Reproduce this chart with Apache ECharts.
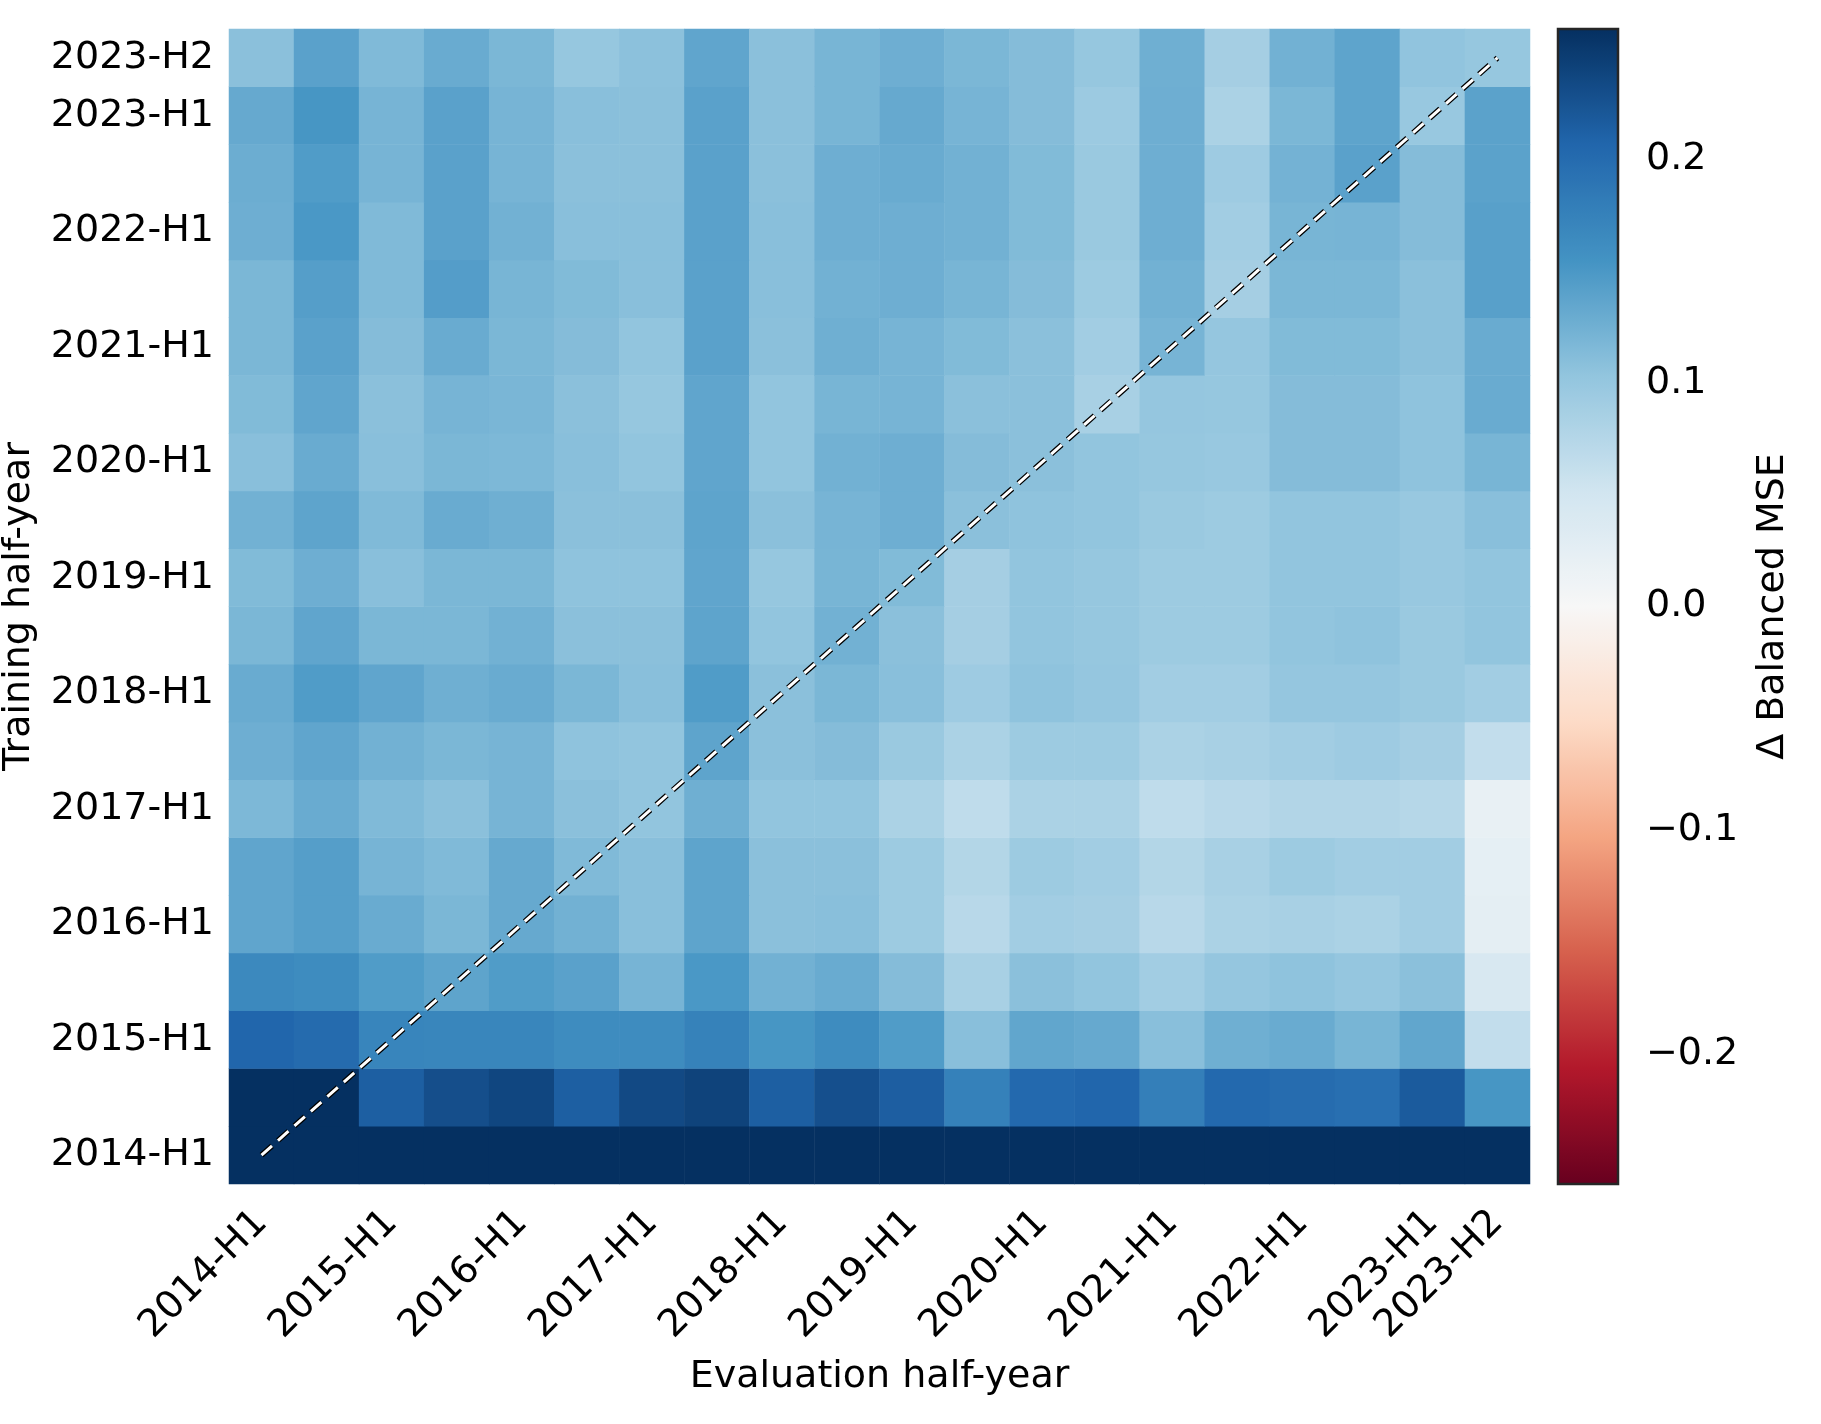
<!DOCTYPE html>
<html>
<head>
<meta charset="utf-8">
<script src="https://cdn.jsdelivr.net/npm/echarts@6/dist/echarts.min.js"></script>
<style>
  html, body { margin: 0; padding: 0; background: #fff; }
  #chart { width: 1821px; height: 1424px; }
</style>
</head>
<body>
<div id="chart"></div>
<script>
// half-year periods, used for both axes
const halfYears = [
  '2014-H1', '2014-H2', '2015-H1', '2015-H2', '2016-H1', '2016-H2', '2017-H1', '2017-H2',
  '2018-H1', '2018-H2', '2019-H1', '2019-H2', '2020-H1', '2020-H2', '2021-H1', '2021-H2',
  '2022-H1', '2022-H2', '2023-H1', '2023-H2'
];

// delta balanced MSE, one row per training half-year, columns = evaluation half-year
const train2014H1 = [0.29, 0.28, 0.28, 0.29, 0.28, 0.28, 0.28, 0.29, 0.27, 0.28, 0.28, 0.27, 0.28, 0.28, 0.27, 0.28, 0.28, 0.28, 0.29, 0.27];
const train2014H2 = [0.262, 0.258, 0.213, 0.229, 0.237, 0.213, 0.234, 0.240, 0.213, 0.228, 0.214, 0.176, 0.203, 0.206, 0.178, 0.203, 0.199, 0.196, 0.217, 0.152];
const train2015H1 = [0.206, 0.201, 0.171, 0.170, 0.170, 0.163, 0.163, 0.174, 0.152, 0.163, 0.146, 0.109, 0.135, 0.132, 0.109, 0.126, 0.130, 0.120, 0.135, 0.064];
const train2015H2 = [0.166, 0.163, 0.146, 0.137, 0.146, 0.140, 0.121, 0.150, 0.124, 0.130, 0.112, 0.085, 0.108, 0.103, 0.090, 0.101, 0.105, 0.101, 0.108, 0.042];
const train2016H1 = [0.136, 0.143, 0.130, 0.118, 0.132, 0.124, 0.109, 0.137, 0.108, 0.109, 0.094, 0.072, 0.090, 0.088, 0.072, 0.083, 0.085, 0.083, 0.090, 0.026];
const train2016H2 = [0.136, 0.143, 0.121, 0.115, 0.132, 0.115, 0.109, 0.137, 0.108, 0.108, 0.094, 0.076, 0.094, 0.090, 0.076, 0.085, 0.094, 0.090, 0.090, 0.024];
const train2017H1 = [0.117, 0.130, 0.115, 0.108, 0.121, 0.108, 0.103, 0.126, 0.103, 0.103, 0.083, 0.066, 0.083, 0.083, 0.066, 0.072, 0.077, 0.077, 0.074, 0.020];
const train2017H2 = [0.127, 0.136, 0.124, 0.118, 0.121, 0.105, 0.103, 0.137, 0.108, 0.112, 0.097, 0.083, 0.094, 0.094, 0.083, 0.085, 0.090, 0.093, 0.088, 0.064];
const train2018H1 = [0.130, 0.146, 0.136, 0.126, 0.130, 0.118, 0.109, 0.146, 0.108, 0.118, 0.109, 0.093, 0.105, 0.101, 0.090, 0.090, 0.101, 0.101, 0.097, 0.090];
const train2018H2 = [0.118, 0.136, 0.118, 0.118, 0.124, 0.108, 0.108, 0.137, 0.103, 0.124, 0.108, 0.088, 0.103, 0.100, 0.094, 0.094, 0.103, 0.105, 0.097, 0.103];
const train2019H1 = [0.114, 0.127, 0.109, 0.118, 0.118, 0.105, 0.105, 0.136, 0.100, 0.120, 0.114, 0.088, 0.103, 0.100, 0.094, 0.094, 0.103, 0.103, 0.098, 0.103];
const train2019H2 = [0.124, 0.137, 0.115, 0.130, 0.126, 0.108, 0.108, 0.137, 0.108, 0.121, 0.127, 0.108, 0.105, 0.103, 0.097, 0.094, 0.103, 0.103, 0.098, 0.109];
const train2020H1 = [0.109, 0.130, 0.109, 0.118, 0.117, 0.109, 0.103, 0.136, 0.103, 0.124, 0.127, 0.112, 0.108, 0.103, 0.100, 0.098, 0.112, 0.112, 0.105, 0.120];
const train2020H2 = [0.114, 0.136, 0.108, 0.121, 0.119, 0.108, 0.100, 0.136, 0.103, 0.120, 0.121, 0.108, 0.108, 0.085, 0.101, 0.100, 0.112, 0.112, 0.105, 0.130];
const train2021H1 = [0.118, 0.140, 0.112, 0.130, 0.118, 0.112, 0.103, 0.140, 0.108, 0.126, 0.121, 0.114, 0.108, 0.090, 0.121, 0.101, 0.114, 0.114, 0.108, 0.130];
const train2021H2 = [0.118, 0.143, 0.115, 0.144, 0.120, 0.114, 0.109, 0.140, 0.109, 0.124, 0.127, 0.120, 0.112, 0.094, 0.124, 0.088, 0.118, 0.118, 0.108, 0.141];
const train2022H1 = [0.127, 0.150, 0.115, 0.140, 0.124, 0.109, 0.109, 0.140, 0.109, 0.127, 0.127, 0.124, 0.114, 0.097, 0.127, 0.090, 0.120, 0.121, 0.112, 0.141];
const train2022H2 = [0.128, 0.146, 0.121, 0.140, 0.121, 0.108, 0.108, 0.140, 0.108, 0.127, 0.130, 0.124, 0.114, 0.097, 0.127, 0.093, 0.123, 0.140, 0.112, 0.139];
const train2023H1 = [0.132, 0.152, 0.121, 0.140, 0.121, 0.109, 0.108, 0.140, 0.108, 0.120, 0.132, 0.121, 0.112, 0.095, 0.127, 0.083, 0.118, 0.137, 0.098, 0.139];
const train2023H2 = [0.108, 0.140, 0.115, 0.130, 0.118, 0.100, 0.107, 0.136, 0.108, 0.120, 0.127, 0.118, 0.112, 0.100, 0.126, 0.088, 0.124, 0.137, 0.104, 0.100];

// colour scale limits and colourbar ticks
const vmin = -0.258;
const vmax = 0.258;
const cbarTicks = [-0.2, -0.1, 0.0, 0.1, 0.2];

// RdBu, low -> high
const rdBu = ['#67001f', '#b2182b', '#d6604d', '#f4a582', '#fddbc7', '#f7f7f7',
              '#d1e5f0', '#92c5de', '#4393c3', '#2166ac', '#053061'];

const rows = [
  train2014H1, train2014H2, train2015H1, train2015H2, train2016H1, train2016H2,
  train2017H1, train2017H2, train2018H1, train2018H2, train2019H1, train2019H2,
  train2020H1, train2020H2, train2021H1, train2021H2, train2022H1, train2022H2,
  train2023H1, train2023H2
];
const cells = [];
rows.forEach((row, y) => row.forEach((v, x) => cells.push([x, y, v])));

const last = halfYears.length - 1;
const diagonal = [[halfYears[0], halfYears[0]], [halfYears[last], halfYears[last]]];
// only every other half-year gets a label, plus the last one
const showTick = (i) => i % 2 === 0 || i === last;

const font = 'DejaVu Sans';
const fs = 38;
const chart = echarts.init(document.getElementById('chart'), null, { renderer: 'canvas' });

chart.setOption({
  animation: false,
  backgroundColor: '#fff',
  textStyle: { fontFamily: font, color: '#000' },
  grid: [
    { left: 229, top: 29, width: 1301, height: 1155, outerBoundsMode: 'none', containLabel: false },
    { left: 1558, top: 29, width: 60, height: 1155, outerBoundsMode: 'none', containLabel: false,
      show: true, z: 10, borderColor: '#262626', borderWidth: 2.5, backgroundColor: 'transparent' }
  ],
  xAxis: [
    {
      type: 'category', data: halfYears, gridIndex: 0,
      axisLine: { show: false }, axisTick: { show: false }, splitLine: { show: false },
      axisLabel: { interval: showTick, rotate: 45, margin: 33, fontSize: fs, fontFamily: font, color: '#000' },
      name: 'Evaluation half-year', nameLocation: 'middle', nameGap: 174, nameMoveOverlap: false,
      nameTextStyle: { fontSize: fs, fontFamily: font, color: '#000' }
    },
    { type: 'value', gridIndex: 1, show: false, min: 0, max: 1 }
  ],
  yAxis: [
    {
      type: 'category', data: halfYears, gridIndex: 0,
      axisLine: { show: false }, axisTick: { show: false }, splitLine: { show: false },
      axisLabel: { interval: showTick, margin: 15, fontSize: fs, fontFamily: font, color: '#000' },
      name: 'Training half-year', nameLocation: 'middle', nameGap: 191, nameRotate: 90, nameMoveOverlap: false,
      nameTextStyle: { fontSize: fs, fontFamily: font, color: '#000' }
    },
    {
      type: 'value', gridIndex: 1, position: 'right', min: vmin, max: vmax,
      axisLine: { show: false }, splitLine: { show: false },
      axisTick: { show: true, length: 13, customValues: cbarTicks, lineStyle: { color: '#000', width: 2.5 } },
      axisLabel: {
        customValues: cbarTicks, margin: 28, fontSize: fs, fontFamily: font, color: '#000',
        formatter: (v) => (v < 0 ? '\u2212' : '') + Math.abs(v).toFixed(1)
      },
      name: '\u0394 Balanced MSE', nameLocation: 'middle', nameGap: 136, nameRotate: 90, nameMoveOverlap: false,
      nameTextStyle: { fontSize: fs, fontFamily: font, color: '#000' }
    }
  ],
  visualMap: {
    type: 'continuous', seriesIndex: 0, min: vmin, max: vmax,
    left: 1558, top: 29, itemWidth: 60, itemHeight: 1155, padding: 0,
    calculable: false, hoverLink: false, realtime: false,
    inRange: { color: rdBu }
  },
  series: [
    {
      type: 'heatmap', xAxisIndex: 0, yAxisIndex: 0, data: cells,
      itemStyle: { borderWidth: 0 }, emphasis: { disabled: true }
    },
    {
      type: 'line', xAxisIndex: 0, yAxisIndex: 0, data: diagonal, symbol: 'none', silent: true, z: 5,
      lineStyle: { color: '#000', width: 5.5, type: [14, 8], cap: 'butt' }
    },
    {
      type: 'line', xAxisIndex: 0, yAxisIndex: 0, data: diagonal, symbol: 'none', silent: true, z: 6,
      lineStyle: { color: '#fff', width: 3, type: [14, 8], cap: 'butt' }
    },
    { type: 'scatter', xAxisIndex: 1, yAxisIndex: 1, data: [], silent: true }
  ]
});
</script>
</body>
</html>
